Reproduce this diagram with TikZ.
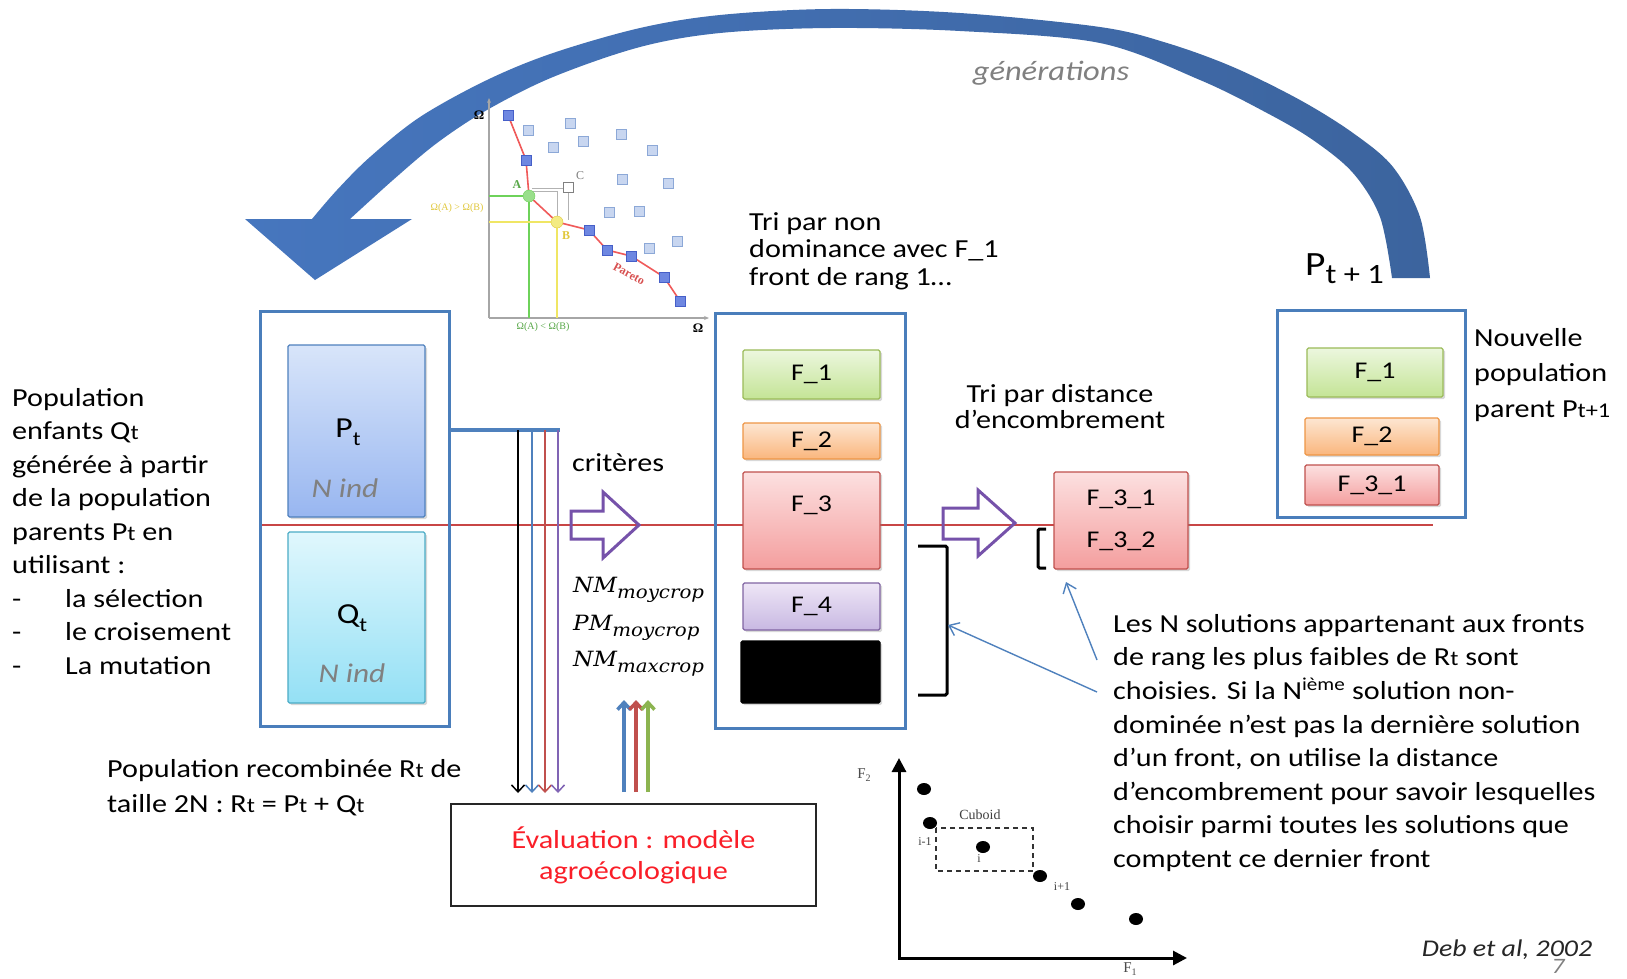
\documentclass[tikz,border=0pt]{standalone}
\usepackage{fontspec}
\usepackage{graphicx}
\setmainfont{Carlito}[FakeStretch=1.16]
\newfontfamily\mathserif{DejaVu Serif}[FakeStretch=1.1]
\newfontfamily\plotserif{Liberation Serif}
\usetikzlibrary{arrows.meta,shadows}
\newcommand\fsz[2]{\fontsize{#1}{#2}\selectfont}
\newcommand\sub[1]{\raisebox{-0.28em}{\fsz{20}{20}#1}}
\newcommand\smt[1]{{\fsz{21}{21}#1}}
\newcommand\dashitem[1]{\makebox[53pt][l]{-}#1}
\newcommand\crit[2]{{\mathserif\itshape\fsz{21}{21}#1\raisebox{-6pt}{\fsz{18}{18}#2}}}

\definecolor{boxblue}{RGB}{74,126,187}
\definecolor{arcL}{RGB}{70,118,190}
\definecolor{arcR}{RGB}{60,100,158}
\definecolor{redline}{RGB}{200,70,70}
\definecolor{fgreenT}{RGB}{236,247,222}
\definecolor{fgreenB}{RGB}{196,228,150}
\definecolor{fgreenD}{RGB}{155,187,89}
\definecolor{forangeT}{RGB}{253,230,210}
\definecolor{forangeB}{RGB}{250,182,125}
\definecolor{forangeD}{RGB}{238,150,70}
\definecolor{fredT}{RGB}{252,224,224}
\definecolor{fredB}{RGB}{244,158,158}
\definecolor{fredD}{RGB}{192,80,77}
\definecolor{fpurpT}{RGB}{238,230,246}
\definecolor{fpurpB}{RGB}{200,184,226}
\definecolor{fpurpD}{RGB}{128,100,162}
\definecolor{ptT}{RGB}{216,229,250}
\definecolor{ptB}{RGB}{152,182,240}
\definecolor{ptD}{RGB}{79,129,189}
\definecolor{qtT}{RGB}{224,247,253}
\definecolor{qtB}{RGB}{148,224,245}
\definecolor{qtD}{RGB}{75,172,198}
\definecolor{critpurple}{RGB}{118,82,170}
\definecolor{arrblue}{RGB}{79,129,189}
\definecolor{arrred}{RGB}{192,80,77}
\definecolor{arrgreen}{RGB}{140,180,80}
\definecolor{arrpurple}{RGB}{128,100,180}
\definecolor{evalred}{RGB}{250,30,40}
\definecolor{softgray}{RGB}{128,128,128}
\definecolor{sqfill}{RGB}{200,214,240}
\definecolor{sqdraw}{RGB}{140,168,215}
\definecolor{pfill}{RGB}{110,135,225}
\definecolor{pdraw}{RGB}{70,95,200}
\definecolor{pline}{RGB}{240,90,90}
\definecolor{agreen}{RGB}{110,210,90}
\definecolor{byellow}{RGB}{240,230,100}
\definecolor{bgold}{RGB}{225,200,60}

\tikzset{
  outerbox/.style={draw=boxblue, line width=3pt, inner sep=0pt},
  front/.style={line width=1.3pt, rounded corners=1.5pt, inner sep=0pt,
    font=\fsz{24}{24},
    drop shadow={shadow xshift=2pt, shadow yshift=-2pt, opacity=0.3}},
  fgreen/.style={front, draw=fgreenD, top color=fgreenT, bottom color=fgreenB},
  forange/.style={front, draw=forangeD, top color=forangeT, bottom color=forangeB},
  fred/.style={front, draw=fredD, top color=fredT, bottom color=fredB},
  fpurp/.style={front, draw=fpurpD, top color=fpurpT, bottom color=fpurpB},
  popP/.style={front, draw=ptD, top color=ptT, bottom color=ptB},
  popQ/.style={front, draw=qtD, top color=qtT, bottom color=qtB},
  txt/.style={inner sep=0pt, font=\fsz{26}{33.5}, align=left},
  nind/.style={inner sep=0pt, font=\fsz{27}{27}\itshape, text=softgray},
  thin/.style={line width=1.5pt, -{Straight Barb[length=7pt,width=13pt]}},
  upar/.style={line width=3.5pt, -{Straight Barb[length=7pt,width=13pt]}},
  hollow/.style={draw=critpurple, line width=3pt, line join=miter},
  pointer/.style={draw=arrblue, line width=1.4pt, -{Straight Barb[length=9pt,width=14pt]}},
  bracket/.style={draw=black, line width=3pt, rounded corners=1.5pt},
  lightsq/.style={fill=sqfill, draw=sqdraw, line width=0.8pt},
  paretosq/.style={fill=pfill, draw=pdraw, line width=0.8pt},
  tiny/.style={inner sep=0pt, font=\plotserif\fsz{10}{10}},
}

\begin{document}
\begin{tikzpicture}[x=1pt,y=-1pt]
\useasboundingbox (0,0) rectangle (1627,978);
\fill[white] (0,0) rectangle (1627,978);

% ---------- generation loop arrow ----------
\shade[left color=arcL, right color=arcR]
  plot[smooth,tension=0.55] coordinates {(1430,278) (1420,217) (1393,167) (1353,133) (1300,100) (1233,67) (1167,43) (1100,27) (960,13) (830,9) (720,15) (640,28) (553,53) (487,80) (420,117) (370,157) (337,190) (312,219)}
  -- (245,219) -- (315,280) -- (412,219) -- (350,219)
  -- plot[smooth,tension=0.55] coordinates {(350,219) (393,180) (437,143) (487,110) (553,77) (640,47) (720,33) (830,28) (960,31) (1100,43) (1200,80) (1267,113) (1313,140) (1353,173) (1380,217) (1392,278)}
  -- cycle;
\node[inner sep=0pt, font=\fsz{28}{28}\itshape, text=softgray] (gen) at (1051,73) {générations};

% ---------- Pareto front sketch ----------
\draw[gray!70, line width=1.2pt, -{Stealth[length=5pt,width=4pt]}] (489,318) -- (489,98);
\draw[gray!70, line width=1.2pt, -{Stealth[length=5pt,width=4pt]}] (489,318) -- (709,318);
\node[tiny, font=\plotserif\bfseries\fsz{13}{13}] (oma) at (479,115) {Ω};
\node[tiny, font=\plotserif\bfseries\fsz{13}{13}] (omb) at (698,328) {Ω};
\draw[agreen, line width=1.5pt] (489,196) -- (529,196) -- (529,318);
\draw[byellow, line width=1.5pt] (489,222) -- (557,222) -- (557,318);
\draw[gray!60, line width=1pt] (532,188) -- (568,188) -- (568,220);
\draw[gray!60, line width=1pt] (532,191) -- (557,191) -- (557,220);
\draw[pline, line width=1.6pt] (508,115) -- (526,160) -- (529,196) -- (557,222) -- (589,230) -- (607,250) -- (631,256) -- (664,277) -- (680,301);
\foreach \x/\y in {528/130,570/123,553/147,583/141,621/134,652/150,622/179,668/183,609/212,639/211,649/248,677/241}
  \filldraw[lightsq] (\x-5,\y-5) rectangle (\x+5,\y+5);
\foreach \x/\y in {508/115,526/160,589/230,607/250,631/256,664/277,680/301}
  \filldraw[paretosq] (\x-5,\y-5) rectangle (\x+5,\y+5);
\filldraw[fill=white, draw=gray, line width=0.8pt] (563,182) rectangle (573,192);
\filldraw[fill=agreen!70, draw=agreen] (529,196) circle (6);
\filldraw[fill=byellow!80, draw=bgold] (557,222) circle (6);
\node[tiny, font=\plotserif\bfseries\fsz{12}{12}, text=agreen!80!black] (lA) at (517,185) {A};
\node[tiny, font=\plotserif\bfseries\fsz{12}{12}, text=bgold] (lB) at (566,236) {B};
\node[tiny, font=\plotserif\fsz{12}{12}, text=gray] (lC) at (580,176) {C};
\node[tiny, text=bgold] (cmp1) at (457,208) {Ω(A) > Ω(B)};
\node[tiny, text=agreen!80!black] (cmp2) at (543,327) {Ω(A) < Ω(B)};
\node[tiny, font=\plotserif\bfseries\fsz{12}{12}, text=pline!90!black, rotate=-28] (par) at (629,274) {Pareto};

% ---------- main flow line ----------
\coordinate (rl0) at (260,525);
\coordinate (rl1) at (1433,525);
\draw[redline, line width=1.2pt] (rl0) -- (rl1);

% ---------- combined population R_t ----------
\node[outerbox, minimum width=189pt, minimum height=415pt] (Rt) at (354.5,518.5) {};
\node[popP, minimum width=137pt, minimum height=172pt] (Pt) at (356.5,431) {};
\node[popQ, minimum width=137pt, minimum height=171pt] (Qt) at (356.5,617.5) {};
\node[inner sep=0pt, font=\fsz{29}{29}] (PtL) at (348,432) {P\sub{t}};
\node[nind] (PtN) at (345,488) {N ind};
\node[inner sep=0pt, font=\fsz{29}{29}] (QtL) at (352,618) {Q\sub{t}};
\node[nind] (QtN) at (352,673) {N ind};

\node[txt, anchor=north west] (lefttext) at (12,388) {Population\\enfants Q\smt{t}\\générée à partir\\de la population\\parents P\smt{t} en\\utilisant :\\\dashitem{la sélection}\\\dashitem{le croisement}\\\dashitem{La mutation}};
\node[txt, anchor=north west, font=\fsz{26}{35}] (recomb) at (107,759) {Population recombinée R\smt{t} de\\taille 2N : R\smt{t} = P\smt{t} + Q\smt{t}};

% ---------- evaluation ----------
\coordinate (c0) at (450,430);
\coordinate (c1) at (560,430);
\draw[arrblue, line width=4pt] (c0) -- (c1);
\node[draw=black!85, line width=2pt, minimum width=365pt, minimum height=102pt, align=center,
  text=evalred, font=\fsz{26}{31}] (eval) at (633.5,855) {Évaluation : modèle\\agroécologique};
\coordinate (v1) at (518,430);
\coordinate (v2) at (532,430);
\coordinate (v3) at (545,430);
\coordinate (v4) at (558,430);
\draw[thin, black] (v1) -- (v1 |- 0,793);
\draw[thin, arrblue] (v2) -- (v2 |- 0,793);
\draw[thin, arrred] (v3) -- (v3 |- 0,793);
\draw[thin, arrpurple] (v4) -- (v4 |- 0,793);
\coordinate (u1) at (624,792);
\coordinate (u2) at (636,792);
\coordinate (u3) at (648,792);
\draw[upar, arrblue] (u1) -- (u1 |- 0,700);
\draw[upar, arrred] (u2) -- (u2 |- 0,700);
\draw[upar, arrgreen] (u3) -- (u3 |- 0,700);

\node[txt, anchor=west] (crit) at (572,463) {critères};
\draw[hollow] (571,511) -- (603,511) -- (603,492) -- (639,525) -- (603,558) -- (603,539) -- (571,539) -- cycle;
\node[inner sep=0pt, anchor=west] (m1) at (573,590) {\crit{NM}{moycrop}};
\node[inner sep=0pt, anchor=west] (m2) at (573,628) {\crit{PM}{moycrop}};
\node[inner sep=0pt, anchor=west] (m3) at (573,664) {\crit{NM}{maxcrop}};

% ---------- non-dominated sorting ----------
\node[txt, anchor=north west, font=\fsz{26}{27.5}] (trinon) at (749,212) {Tri par non\\dominance avec F\_1\\front de rang 1…};
\node[outerbox, minimum width=190pt, minimum height=415pt] (Fr) at (810,520.5) {};
\node[fgreen, minimum width=137pt, minimum height=49pt] (F1) at (811.5,374.5) {F\_1};
\node[forange, minimum width=137pt, minimum height=36pt] (F2) at (811.5,441) {F\_2};
\node[fred, minimum width=137pt, minimum height=97pt] (F3) at (811.5,520.5) {};
\node[inner sep=0pt, font=\fsz{24}{24}] (F3L) at (811.5,505) {F\_3};
\node[fpurp, minimum width=137pt, minimum height=47pt] (F4) at (811.5,606.5) {F\_4};
\node[front, fill=black, draw=black, minimum width=139pt, minimum height=62pt] (F5) at (810.5,672) {};
\draw[bracket] (918,546) -- (947,546) -- (947,695) -- (918,695);

% ---------- crowding distance ----------
\node[txt, anchor=north, align=center, font=\fsz{26}{26.5}] (tridist) at (1060,384) {Tri par distance\\d’encombrement};
\draw[hollow] (943,508) -- (978,508) -- (978,490) -- (1015,523) -- (978,556) -- (978,539) -- (943,539) -- cycle;
\node[fred, minimum width=134pt, minimum height=97pt, align=center, font=\fsz{24}{42}] (F3x) at (1121,520.5) {F\_3\_1\\F\_3\_2};
\draw[bracket] (1046,529) -- (1038,529) -- (1038,568) -- (1046,568);

% ---------- new parent population ----------
\node[outerbox, minimum width=188pt, minimum height=207pt] (Pn) at (1371,413.5) {};
\node[fgreen, minimum width=136pt, minimum height=49pt] (N1) at (1375,372.5) {F\_1};
\node[forange, minimum width=134pt, minimum height=37pt] (N2) at (1372,436.5) {F\_2};
\node[fred, minimum width=134pt, minimum height=40pt] (N3) at (1372,485) {F\_3\_1};
\node[txt, anchor=north west, font=\fsz{26}{35.5}] (newpop) at (1474,328) {Nouvelle\\population\\parent P\smt{t+1}};
\node[inner sep=0pt, anchor=base west, font=\fsz{34}{34}] (Pt1) at (1305,275) {P\raisebox{-8pt}{\fsz{28}{28}t + 1}};

% ---------- explanation ----------
\node[txt, anchor=north west, font=\fsz{26}{33.6}] (expl) at (1113,614) {Les N solutions appartenant aux fronts\\de rang les plus faibles de R\smt{t} sont\\choisies. Si la N\textsuperscript{ième} solution non-\\dominée n’est pas la dernière solution\\d’un front, on utilise la distance\\d’encombrement pour savoir lesquelles\\choisir parmi toutes les solutions que\\comptent ce dernier front};
\coordinate (p1) at (1097,692);
\coordinate (p2) at (1097,660);
\draw[pointer] (p1) -- (948,625);
\draw[pointer] (p2) -- (1066,582);

% ---------- crowding cuboid sketch ----------
\draw[black, line width=3pt, {Triangle[length=14pt,width=14pt]}-{Triangle[length=14pt,width=14pt]}] (899,758) -- (899,958) -- (1187,958);
\node[tiny, font=\plotserif\fsz{15}{15}, text=black!70] (f2) at (864,775) {F\raisebox{-3pt}{\fsz{10}{10}2}};
\node[tiny, font=\plotserif\fsz{15}{15}, text=black!70] (f1) at (1130,969) {F\raisebox{-3pt}{\fsz{10}{10}1}};
\draw[black!80, line width=2pt, dash pattern=on 5pt off 4pt] (936,828) rectangle (1033,871);
\foreach \x/\y in {924/789,930/823,983/847,1040/876,1078/904,1136/919}
  \fill[black] (\x,\y) ellipse (7 and 6);
\node[tiny, font=\plotserif\fsz{14}{14}, text=black!75] (cub) at (980,815) {Cuboid};
\node[tiny, font=\plotserif\fsz{12}{12}, text=black!75] (im) at (925,842) {i-1};
\node[tiny, font=\plotserif\fsz{12}{12}, text=black!75] (ii) at (979,859) {i};
\node[tiny, font=\plotserif\fsz{12}{12}, text=black!75] (ip) at (1062,887) {i+1};

% ---------- reference ----------
\node[inner sep=0pt, font=\fsz{24}{24}\itshape, text=black!85] (deb) at (1507,950) {Deb et al, 2002};
\node[inner sep=0pt, font=\fsz{22}{22}\itshape, text=softgray] (pg) at (1558,966) {7};
\end{tikzpicture}
\end{document}
